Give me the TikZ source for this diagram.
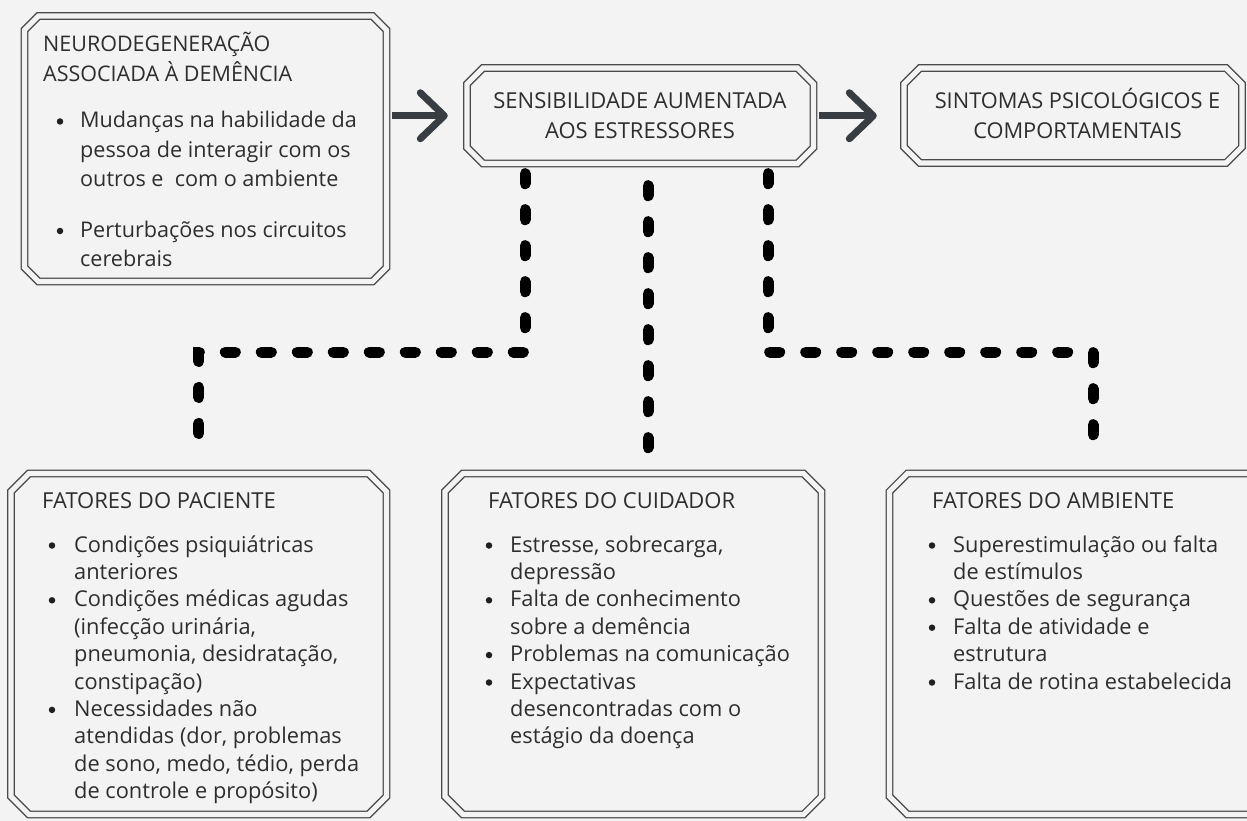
\documentclass[tikz,border=0pt]{standalone}
\usepackage{fontspec}
\setmainfont{Open Sans}
\usetikzlibrary{arrows.meta,calc}
\definecolor{bg}{HTML}{F3F3F3}
\definecolor{boxgray}{HTML}{4A4A4A}
\definecolor{txtc}{HTML}{2E2E2E}
\definecolor{arrc}{HTML}{373D43}
\tikzset{
  boxline/.style={draw=boxgray, line width=1.3pt, double=bg, double distance=5.2pt, line join=miter},
  txt/.style={inner sep=0pt, text=txtc, font=\fontsize{#1}{#1}\selectfont},
  txt/.default=21.8,
  bul/.style={circle, fill=black!88, inner sep=0pt, minimum size=6.5pt},
  flowarrow/.style={draw=arrc, line width=7pt, -{Straight Barb[length=24pt,width=46pt,round]}},
  dotsline/.style={draw=black, line width=11pt, line cap=round, dash pattern=on 10pt off 26pt},
}
% chamfered double box: name, x1, y1, x2, y2, chamfer
\newcommand\cbox[6]{%
  \draw[boxline] ({#2+#6},#3) -- ({#4-#6},#3) -- (#4,{#3+#6}) -- (#4,{#5-#6}) -- ({#4-#6},#5) -- ({#2+#6},#5) -- (#2,{#5-#6}) -- (#2,{#3+#6}) -- cycle;
  \node[inner sep=0pt, minimum width={(#4-#2)*1pt}, minimum height={(#5-#3)*1pt}] (#1) at ({(#2+#4)/2},{(#3+#5)/2}) {};
}
% lines of text: name prefix, x, first baseline, line step, font size, list
\newcommand\blines[6]{%
  \foreach \t [count=\i] in {#6} {\node[txt=#5, anchor=base west, name=#1\i] at (#2,{#3+(\i-1)*#4}) {\t};}%
}
% bullet dot: name, x, baseline
\newcommand\bdot[3]{\node[bul] (#1) at (#2,{#3-6.5}) {};}
\begin{document}
\begin{tikzpicture}[x=1pt,y=-1pt]
\fill[bg] (0,0) rectangle (1247,821);
\useasboundingbox (0,0) rectangle (1247,821);
\clip (0,0) rectangle (1247,821);

% boxes
\cbox{neuro}{24.5}{16}{386.5}{281.5}{14}
\cbox{sens}{467}{68}{813.5}{163.5}{16}
\cbox{sint}{904}{68}{1242}{163}{16}
\cbox{pac}{11}{473.5}{386.5}{814.5}{18}
\cbox{cui}{445}{473.5}{821.5}{814.5}{18}
\cbox{amb}{889.5}{473.5}{1296.5}{814.5}{18}

% box 1 text
\blines{nh}{43}{52}{30}{21.5}{{NEURODEGENERAÇÃO},{ASSOCIADA À DEMÊNCIA}}
\bdot{nb1}{60}{128}
\blines{na}{80}{128}{29.5}{21.6}{{Mudanças na habilidade da},{pessoa de interagir com os},{outros e \ com o ambiente}}
\bdot{nb2}{60}{237.5}
\blines{nc}{80}{237.5}{28.5}{21.6}{{Perturbações nos circuitos},{cerebrais}}

% box 2 and 3 text
\node[txt=22, anchor=base] (s1) at (640,109) {SENSIBILIDADE AUMENTADA};
\node[txt=22, anchor=base] (s2) at (640,139) {AOS ESTRESSORES};
\node[txt=21.8, anchor=base] (t1) at (1077.5,109) {SINTOMAS PSICOLÓGICOS E};
\node[txt=21.8, anchor=base] (t2) at (1077.5,139) {COMPORTAMENTAIS};

% paciente
\node[txt=22, anchor=base west] (ph) at (42,508) {FATORES DO PACIENTE};
\bdot{pb1}{52}{552}
\bdot{pb2}{52}{606.8}
\bdot{pb3}{52}{716.4}
\blines{pl}{74}{552}{27.4}{21.8}{{Condições psiquiátricas},{anteriores},{Condições médicas agudas},{(infecção urinária,},{pneumonia, desidratação,},{constipação)},{Necessidades não},{atendidas (dor, problemas},{de sono, medo, tédio, perda},{de controle e propósito)}}

% cuidador
\node[txt=22, anchor=base west] (ch) at (488,508) {FATORES DO CUIDADOR};
\bdot{cb1}{489}{552}
\bdot{cb2}{489}{606.8}
\bdot{cb3}{489}{661.6}
\bdot{cb4}{489}{689}
\blines{cl}{510}{552}{27.4}{21.8}{{Estresse, sobrecarga,},{depressão},{Falta de conhecimento},{sobre a demência},{Problemas na comunicação},{Expectativas},{desencontradas com o},{estágio da doença}}

% ambiente
\node[txt=22, anchor=base west] (ah) at (932,508) {FATORES DO AMBIENTE};
\bdot{ab1}{932}{552}
\bdot{ab2}{932}{606.8}
\bdot{ab3}{932}{634.2}
\bdot{ab4}{932}{689}
\blines{al}{953}{552}{27.4}{21.8}{{Superestimulação ou falta},{de estímulos},{Questões de segurança},{Falta de atividade e},{estrutura},{Falta de rotina estabelecida}}

% arrows
\draw[flowarrow, shorten <=5pt, shorten >=19pt] (neuro.east |- sens.west) -- (sens.west);
\draw[flowarrow, shorten <=5.5pt, shorten >=27pt] (sens.east) -- (sint.west |- sens.east);

% dotted connectors
\coordinate (cL) at (525,352);
\coordinate (cR) at (768,352);
\draw[dotsline, shorten <=10pt, shorten >=18pt] (sens.south -| cL) -- (cL) -| (pac.north);
\draw[dotsline, shorten <=22pt, shorten >=21pt] ([xshift=7.75pt]sens.south) -- ([xshift=14.75pt]cui.north);
\draw[dotsline, shorten <=10pt, shorten >=18pt] (sens.south -| cR) -- (cR) -| (amb.north);
\end{tikzpicture}
\end{document}
